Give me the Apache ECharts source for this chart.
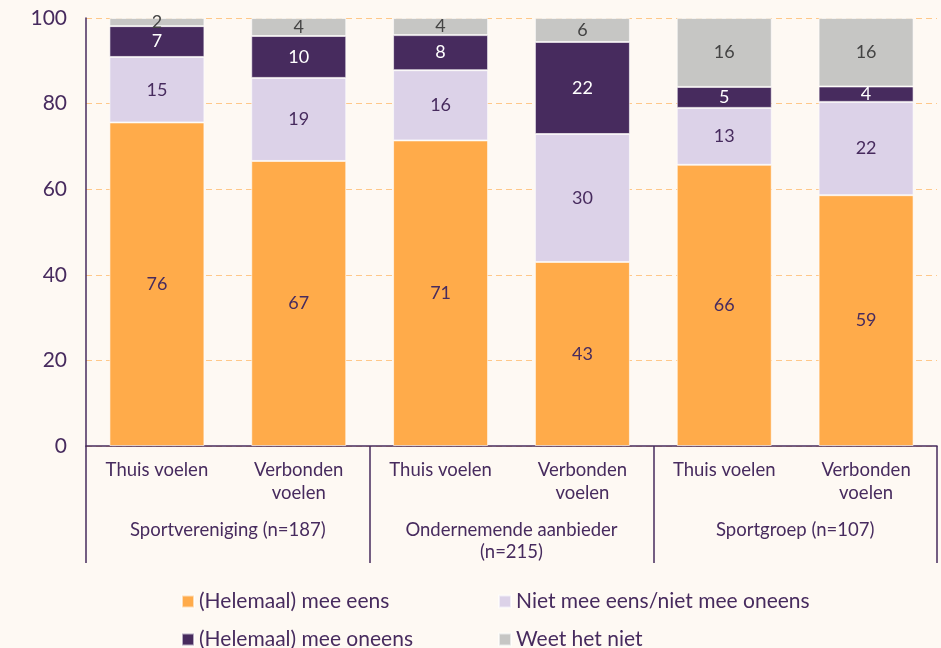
<!DOCTYPE html>
<html><head><meta charset="utf-8">
<script src="https://cdn.jsdelivr.net/npm/echarts@6/dist/echarts.min.js"></script>
<style>html,body{margin:0;padding:0;background:#FEF9F3;}#c{width:941px;height:648px;}</style>
</head><body><div id="c"></div>
<script>
const categories = ['Thuis voelen','Verbonden\nvoelen','Thuis voelen','Verbonden\nvoelen','Thuis voelen','Verbonden\nvoelen'];
const groups = ['Sportvereniging (n=187)','Ondernemende aanbieder\n(n=215)','Sportgroep (n=107)'];
const seriesNames = ['(Helemaal) mee eens','Niet mee eens/niet mee oneens','(Helemaal) mee oneens','Weet het niet'];
const eens = [75.6, 66.6, 71.4, 43.0, 65.7, 58.6];
const neutraal = [15.3, 19.4, 16.4, 29.9, 13.3, 21.8];
const oneens = [7.2, 9.8, 8.2, 21.5, 4.9, 3.6];
const weetNiet = [1.9, 4.2, 4.0, 5.6, 16.1, 16.0];
const yTicks = [0, 20, 40, 60, 80, 100];

const colors = ['#FFAB4A', '#DCD2E8', '#472B5E', '#C6C6C4'];
const labelColors = ['#472B5E', '#472B5E', '#FFFFFF', '#444444'];
const txt = '#472B5E';
const font = 'Lato, "Open Sans", sans-serif';
const values = [eens, neutraal, oneens, weetNiet];

const chart = echarts.init(document.getElementById('c'));
const legendPos = [[176, 586], [493, 586], [176, 624], [493, 624]];
chart.setOption({
  backgroundColor: '#FEF9F3',
  textStyle: { fontFamily: font },
  animation: false,
  grid: { left: 86, right: 4, top: 18, bottom: 202, containLabel: false },
  legend: seriesNames.map((n, i) => ({
    data: [n], left: legendPos[i][0], top: legendPos[i][1],
    itemWidth: 12, itemHeight: 12, icon: 'rect', itemGap: 6,
    textStyle: { fontFamily: font, fontSize: 21, color: txt }
  })),
  xAxis: [{
    type: 'category', data: categories, position: 'bottom',
    axisLine: { lineStyle: { color: txt, width: 1.5 } },
    axisTick: { show: false },
    axisLabel: { fontFamily: font, fontSize: 18.5, color: txt, margin: 13, lineHeight: 23, interval: 0 }
  }, {
    type: 'category', data: groups, position: 'bottom',
    axisLine: { show: false },
    axisTick: { show: true, length: 117, lineStyle: { color: txt, width: 1.5 }, interval: 0 },
    axisLabel: { fontFamily: font, fontSize: 18.5, color: txt, margin: 73, lineHeight: 22, interval: 0 }
  }],
  yAxis: {
    type: 'value', min: 0, max: 100, interval: 20,
    axisLine: { show: true, lineStyle: { color: txt, width: 1.5 } },
    axisTick: { show: false },
    axisLabel: { fontFamily: font, fontSize: 21, color: txt, margin: 19,
      formatter: v => yTicks.includes(v) ? String(v) : '' },
    splitLine: { lineStyle: { color: '#FFC88A', type: [6, 4], width: 1.2 } }
  },
  series: seriesNames.map((n, i) => ({
    name: n, type: 'bar', stack: 'total', xAxisIndex: 0,
    barWidth: 95,
    data: values[i],
    itemStyle: { color: colors[i], borderColor: 'rgba(255,255,255,0.6)', borderWidth: 1 },
    label: { show: true, position: 'inside', fontFamily: font, fontSize: 18, color: labelColors[i],
      formatter: p => String(Math.round(p.value)) }
  }))
});
</script></body></html>
